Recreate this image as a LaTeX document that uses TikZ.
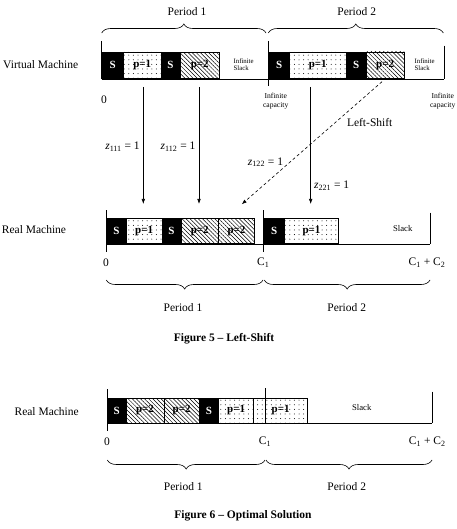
\documentclass[tikz,border=0pt]{standalone}
\usepackage{fontspec}
\setmainfont{Liberation Serif}
\usetikzlibrary{patterns.meta,decorations.pathreplacing,arrows.meta}
\begin{document}
\begin{tikzpicture}[x=1pt,y=-1pt,
  line width=0.6pt,
  blk/.style={draw, inner sep=0pt, anchor=south west, font=\fontsize{11}{11}\selectfont\bfseries},
  sblk/.style={blk, fill=black, text=white},
  pone/.style={blk, pattern={Dots[distance=4.6pt,radius=0.5pt]}},
  ptwo/.style={blk, pattern={Lines[angle=-45,distance=2.9pt,line width=0.5pt]}},
  lbl/.style={font=\fontsize{11.5}{13}\selectfont, inner sep=0pt},
  bold/.style={font=\fontsize{11.5}{13}\selectfont\bfseries, inner sep=0pt},
  tiny/.style={font=\fontsize{6.8}{7.2}\selectfont, align=left, inner sep=0pt},
  capac/.style={font=\fontsize{7.6}{9.5}\selectfont, align=center, inner sep=0pt},
  slk/.style={font=\fontsize{8.7}{10}\selectfont, inner sep=0pt},
  brc/.style={decorate, decoration={brace, amplitude=9pt}, line width=0.6pt},
  arr/.style={-{Latex[length=5pt,width=3.6pt]}},
  ]
\fill[white] (0,0) rectangle (456,529);
\useasboundingbox (0,0) rectangle (456,529);

% ---------------- Virtual machine ----------------
\node[lbl] (vm) at (40.7,64.7) {Virtual Machine};
\draw (101.7,79) -- (444.3,79);
\draw (101.7,41) -- (101.7,79);
\draw (268.3,41) -- (268.3,86);
\draw (444.3,45.7) -- (444.3,79);
\node[sblk, minimum width=21.6, minimum height=26.7] (vS1) at (101.7,79) {S};
\node[pone, minimum width=37.4, minimum height=26.7] (vP1) at (123.3,79) {p=1};
\node[sblk, minimum width=19, minimum height=26.7] (vS2) at (160.7,79) {S};
\node[ptwo, minimum width=39.6, minimum height=26.7] (vP2) at (179.7,79) {p=2};
\node[sblk, minimum width=21, minimum height=26.7] (vS3) at (268.3,79) {S};
\node[pone, minimum width=56.4, minimum height=26.7] (vP3) at (289.3,79) {p=1};
\node[sblk, minimum width=20.3, minimum height=26.7] (vS4) at (345.7,79) {S};
\node[ptwo, minimum width=37.7, minimum height=26.7] (vP4) at (366,79) {p=2};
\node[tiny, anchor=west] (is1) at (233.3,64.8) {Infinite\\Slack};
\node[tiny, anchor=west] (is2) at (414.3,64.8) {Infinite\\Slack};
\node[lbl] (v0) at (104,99.3) {0};
\node[capac] (ic1) at (275.7,101.3) {Infinite\\capacity};
\node[capac] (ic2) at (442.7,101.3) {Infinite\\capacity};
\draw[brc] (101.7,33) -- (266,33);
\draw[brc] (268.3,33) -- (443.3,33);
\node[lbl] (vper1) at (187,12) {Period 1};
\node[lbl] (vper2) at (356.7,12) {Period 2};

% ---------------- arrows ----------------
\coordinate (a1s) at (143.3,87);  \coordinate (a1e) at (143.3,204);
\coordinate (a2s) at (199,87);    \coordinate (a2e) at (199,204);
\coordinate (a3s) at (310.7,87);  \coordinate (a3e) at (310.7,204);
\coordinate (a4s) at (382,81.7);  \coordinate (a4e) at (241.7,204.3);
\draw[arr] (a1s) -- (a1e);
\draw[arr] (a2s) -- (a2e);
\draw[arr] (a3s) -- (a3e);
\draw[arr, dashed, dash pattern=on 3pt off 2.5pt] (a4s) -- (a4e);
\node[lbl] (z111) at (122.5,146.7) {\textit{z}\textsubscript{111} = 1};
\node[lbl] (z112) at (178,146.7) {\textit{z}\textsubscript{112} = 1};
\node[lbl] (z122) at (265.5,162.3) {\textit{z}\textsubscript{122} = 1};
\node[lbl] (z221) at (331.7,186) {\textit{z}\textsubscript{221} = 1};
\node[lbl] (ls) at (369.7,122.3) {Left-Shift};

% ---------------- Real machine (Figure 5) ----------------
\node[lbl] (rm1) at (34,229.3) {Real Machine};
\draw (106.3,244) -- (430,244);
\draw (106.3,210) -- (106.3,251.7);
\draw (263.7,210) -- (263.7,251.7);
\draw (430,212.7) -- (430,244);
\node[sblk, minimum width=19.7, minimum height=25] (rS1) at (106.3,244) {S};
\node[pone, minimum width=35.7, minimum height=25] (rP1) at (126,244) {p=1};
\node[sblk, minimum width=19, minimum height=25] (rS2) at (161.7,244) {S};
\node[ptwo, minimum width=37.6, minimum height=25] (rP2) at (180.7,244) {p=2};
\node[ptwo, minimum width=35.7, minimum height=25] (rP3) at (218.3,244) {p=2};
\node[sblk, minimum width=20.3, minimum height=25] (rS3) at (263.7,244) {S};
\node[pone, minimum width=54.3, minimum height=25] (rP4) at (284,244) {p=1};
\node[slk] (rslack) at (402.7,228.3) {Slack};
\node[lbl] (r0) at (106,262.7) {0};
\node[lbl] (rc1) at (263.3,262.7) {C\textsubscript{1}};
\node[lbl] (rc12) at (427,262.7) {C\textsubscript{1} + C\textsubscript{2}};
\draw[brc] (263,280) -- (106.3,280);
\draw[brc] (430,280) -- (264.3,280);
\node[lbl] (rper1) at (183,307.3) {Period 1};
\node[lbl] (rper2) at (346.7,307.3) {Period 2};
\node[bold] (cap5) at (224,338.3) {Figure 5 -- Left-Shift};

% ---------------- Real machine (Figure 6) ----------------
\node[lbl] (rm2) at (46.7,411.7) {Real Machine};
\draw (107.3,423.3) -- (432,423.3);
\node[sblk, minimum width=18.4, minimum height=25] (oS1) at (107.3,423.3) {S};
\node[ptwo, minimum width=38, minimum height=25] (oP1) at (125.7,423.3) {p=2};
\node[ptwo, minimum width=35.3, minimum height=25] (oP2) at (163.7,423.3) {p=2};
\node[sblk, minimum width=19.3, minimum height=25] (oS2) at (199,423.3) {S};
\node[pone, minimum width=35, minimum height=25] (oP3) at (218.3,423.3) {p=1};
\node[pone, minimum width=54, minimum height=25] (oP4) at (253.3,423.3) {p=1};
\draw (107.3,389) -- (107.3,431);
\draw (265,388.3) -- (265,423.3);
\draw (432,391.7) -- (432,423.3);
\node[slk] (oslack) at (361.7,407.7) {Slack};
\node[lbl] (o0) at (107,441.7) {0};
\node[lbl] (oc1) at (265,441.7) {C\textsubscript{1}};
\node[lbl] (oc12) at (427.3,441.7) {C\textsubscript{1} + C\textsubscript{2}};
\draw[brc] (265,460) -- (107.3,460);
\draw[brc] (432,460) -- (266,460);
\node[lbl] (oper1) at (183.3,486.7) {Period 1};
\node[lbl] (oper2) at (346.7,486.7) {Period 2};
\node[bold] (cap6) at (243,516) {Figure 6 -- Optimal Solution};
\end{tikzpicture}
\end{document}
